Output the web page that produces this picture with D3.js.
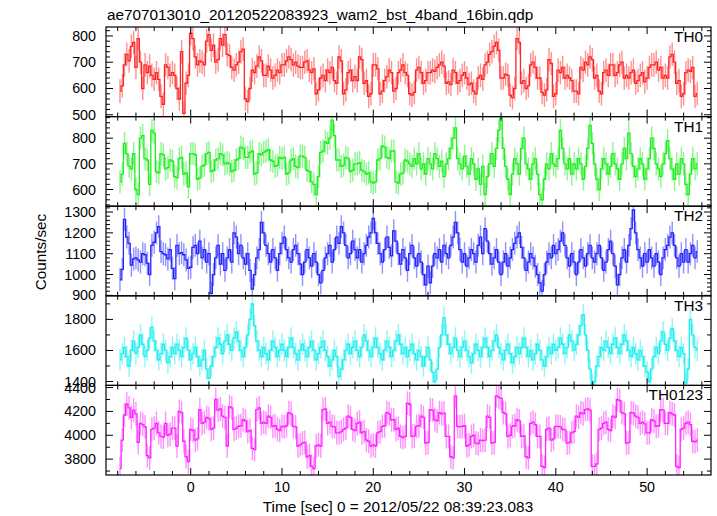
<!DOCTYPE html>
<html><head><meta charset="utf-8">
<script src="https://cdn.jsdelivr.net/npm/d3@7"></script>
<style>body{margin:0;background:#fff}svg{display:block}text{font-family:"Liberation Sans",Arial,Helvetica,sans-serif}</style>
</head><body>
<script>
// ---- data ----
const title = "ae707013010_20120522083923_wam2_bst_4band_16bin.qdp";
const xLabel = "Time [sec] 0 = 2012/05/22 08:39:23.083";
const yLabel = "Counts/sec";
const bandNames = ["TH0","TH1","TH2","TH3","TH0123"];
const binStart = -7.75, binWidth = 0.25;
const xTicks = [0,10,20,30,40,50];
const th0 = [
590,610,690,730,705,760,775,680, 790,700,600,690,660,685,650,635,
660,635,570,540,690,680,650,660, 650,600,560,740,505,620,650,810,
790,720,690,705,700,690,780,805, 745,765,700,710,790,765,805,730,
725,680,670,690,700,740,750,560, 550,600,670,660,685,720,705,650,
650,685,670,640,650,670,660,690, 690,705,720,710,690,700,685,680,
680,700,705,670,660,675,580,595, 640,650,630,670,660,680,630,620,
720,705,580,595,660,670,630,645, 630,720,710,620,630,570,580,690,
690,675,580,590,630,645,670,660, 590,600,660,670,690,660,650,580,
575,585,670,680,660,620,630,660, 660,670,665,680,690,700,685,620,
625,615,670,660,620,630,650,660, 640,615,620,590,580,640,650,635,
690,700,730,740,760,775,745,640, 640,655,650,575,565,600,790,775,
620,630,600,610,690,700,680,640, 640,585,575,595,710,695,570,580,
670,660,680,640,650,640,630,590, 590,580,680,670,700,690,720,710,
640,650,590,580,660,670,650,690, 690,650,660,690,700,640,650,640,
660,670,620,630,650,660,625,640, 680,690,690,700,670,680,640,650,
640,720,730,700,620,630,570,580, 660,670,665,680,570,580];
const th1 = [
630,660,780,740,690,680,740,600, 580,800,810,720,715,620,830,820,
670,665,740,735,680,685,715,710, 650,645,720,725,660,665,610,740,
740,735,640,645,690,695,740,745, 670,675,715,720,740,735,700,705,
700,670,675,715,720,765,760,725, 725,745,750,660,665,740,735,745,
750,755,715,710,690,695,725,720, 725,660,665,715,720,690,685,730,
730,725,675,670,630,620,580,650, 745,750,785,780,800,870,810,715,
715,690,695,725,720,670,675,700, 700,705,675,670,660,665,630,625,
630,715,720,770,765,725,720,750, 750,630,625,660,665,715,710,700,
690,720,700,740,680,700,660,720, 700,680,740,720,690,710,650,700,
720,760,800,840,720,700,680,730, 690,660,720,700,640,680,620,690,
580,650,700,740,690,760,830,880, 760,690,640,580,660,720,700,660,
760,800,700,680,640,700,720,660, 580,560,640,700,680,740,700,690,
720,830,760,700,680,720,660,700, 680,720,700,640,690,760,850,780,
700,640,600,680,720,700,660,690, 740,700,680,640,700,760,720,820,
740,690,650,680,720,700,640,680, 720,800,760,700,680,650,700,740,
790,720,680,640,700,660,720,700, 620,580,660,720,680,700];
const th2 = [
975,1025,1265,1180,1150,1045,1075,1080, 1070,1060,1100,1095,1055,1000,1140,1155,
1200,1230,1110,1100,1095,1075,1120,1030, 980,1140,1100,1105,1095,1070,1030,1035,
1130,1140,1100,1160,1080,1120,1060,1100, 910,1000,1080,1140,1050,1100,1020,1080,
1120,1060,1200,1180,1100,1140,1080,1050, 1100,1020,930,1000,1080,1120,1250,1200,
1140,1100,1060,1120,1080,1020,1100,1150, 1180,1120,1080,1060,1120,1140,1100,1050,
1000,1060,1120,1080,1040,1100,1060,1000, 960,1020,1080,1100,1140,1060,1120,1180,
1150,1230,1200,1140,1080,1100,1160,1120, 1080,1120,1060,1100,1140,1180,1200,1270,
1200,1150,1100,1060,1120,1180,1130,1090, 1210,1160,1100,1050,1120,1080,1020,1100,
1140,1080,1040,1100,1060,1000,950,1040, 960,1040,1100,1080,1120,1060,1140,1100,
1080,1140,1180,1250,1200,1120,1060,1100, 1040,1080,1120,1100,1060,1140,1180,1100,
1220,1160,1100,1050,1080,1120,1060,1000, 1060,1100,1040,1080,1120,1150,1180,1200,
1130,1080,1020,1060,1100,1080,1040,1000, 960,920,1000,1060,1100,1080,1140,1100,
1120,1160,1200,1140,1080,1040,1100,1060, 1000,1060,1120,1080,1040,1100,1140,1080,
1060,1100,1140,1080,1020,1060,1120,1160, 1100,1040,950,1000,1080,1120,1060,1140,
1220,1310,1200,1120,1080,1040,1100,1060, 1120,1080,1040,1100,1060,1000,1080,1120,
1140,1180,1200,1140,1080,1040,1100,1060, 1120,1060,1100,1140,1080,1110];
const th3 = [
1540,1580,1620,1560,1500,1600,1660,1580, 1620,1700,1640,1560,1600,1680,1750,1660,
1600,1540,1580,1640,1600,1520,1560,1620, 1580,1640,1600,1560,1620,1680,1600,1540,
1580,1620,1560,1500,1540,1600,1480,1420, 1500,1560,1620,1680,1640,1580,1660,1700,
1640,1600,1680,1720,1660,1600,1560,1620, 1700,1800,1900,1760,1660,1600,1560,1620,
1580,1540,1600,1660,1620,1560,1600,1640, 1600,1560,1620,1680,1620,1580,1540,1600,
1640,1600,1560,1620,1660,1600,1540,1580, 1620,1660,1600,1560,1500,1540,1600,1560,
1430,1480,1540,1600,1640,1580,1620,1660, 1600,1560,1620,1700,1660,1600,1560,1620,
1680,1620,1580,1540,1600,1660,1620,1560, 1600,1660,1700,1640,1580,1620,1560,1600,
1640,1580,1540,1600,1560,1500,1560,1620, 1540,1460,1400,1480,1620,1700,1810,1700,
1640,1580,1620,1680,1600,1560,1620,1660, 1600,1560,1520,1580,1640,1600,1560,1620,
1680,1620,1560,1600,1660,1700,1620,1580, 1540,1600,1640,1580,1520,1560,1620,1580,
1620,1680,1620,1560,1600,1540,1580,1640, 1600,1540,1500,1560,1620,1580,1640,1600,
1620,1680,1640,1580,1620,1700,1660,1600, 1640,1700,1760,1830,1700,1600,1480,1380,
1400,1500,1560,1620,1600,1660,1620,1580, 1640,1680,1620,1580,1640,1700,1660,1600,
1560,1620,1580,1540,1600,1560,1500,1460, 1400,1480,1560,1620,1580,1660,1720,1640,
1600,1680,1740,1660,1600,1560,1620,1580, 1390,1480,1800,1700,1620,1600];
const th0123 = [
3720,3960,4170,4260,4230,4150,4210,4180, 3940,4100,4090,4070,3830,3810,4050,4060,
4100,4020,3990,3985,4100,4000,4010,4060, 4060,3910,4200,4190,3950,3820,3780,4050,
4040,3960,3970,4215,4100,4110,4150,4140, 4050,4060,4300,4210,4220,4160,4150,3910,
4240,4230,4050,4060,4075,4080,4130,4120, 4030,4040,3890,3880,4215,4230,4100,4110,
4100,4160,4150,4075,4080,4050,4040,4075, 4070,4080,4190,4180,4075,4070,3910,3920,
3935,3940,3820,3830,3740,3720,3910,3920, 3910,4215,4220,4100,4110,4075,4070,4020,
4020,4030,4050,4060,4160,4150,4050,4040, 4100,4110,4020,4030,3960,3950,3910,3920,
3910,4020,4030,4075,4080,4190,4180,4130, 4130,4050,4060,3990,3980,3990,4270,4260,
3990,3995,4075,4080,4160,4150,3935,3940, 4215,4210,4130,4120,4190,4180,4185,3990,
3990,3820,3810,4330,4075,4070,4075,4080, 3910,3920,3990,4000,3935,3930,3960,3955,
3960,4160,4150,3935,3940,4330,4320,4310, 4190,4180,3990,4000,4075,4080,4130,4120,
3990,3995,3820,3810,4100,4110,4090,3990, 3990,3740,3730,4050,4060,3960,3970,4075,
4075,4070,4050,4045,3935,3940,4020,4030, 4160,4150,4190,4180,4215,4220,4210,3740,
3740,3760,4050,4060,4100,4110,4050,4040, 4160,4150,4300,4290,4190,4180,3935,3940,
4190,4185,4160,4150,4100,4110,4095,4020, 4020,4130,4120,4075,4080,4215,4210,4100,
4100,4190,4180,4170,3740,3730,4050,4060, 4100,4110,4090,3950,3945,3960];
const seriesValues = [th0, th1, th2, th3, th0123];
const errorHalf = [45, 45, 55, 70, 100];
const yDomains = [[493,834],[535,884],[898,1328],[1375,1952],[3667,4418]];
const yTicks = [[500,600,700,800],[600,700,800],[900,1000,1100,1200,1300],[1400,1600,1800],[3800,4000,4200,4400]];
const yMinorStep = [20, 20, 20, 100, 100];
const colors = ["#ff2424","#1eee1e","#2424ff","#1eeeee","#ff24ff"];

(function draw() {
  const W = 717, H = 516;
  const pl = 106, pr = 711, pt = 27, pb = 475;
  const ph = (pb - pt) / 5;
  const fs = 15.3;

  const svg = d3.select("body").append("svg").attr("width", W).attr("height", H);
  const x = d3.scaleLinear().domain([-9.28, 57.0]).range([pl, pr]);
  const xMinor = d3.range(-8, 57, 2).filter(v => v % 10 !== 0);

  svg.append("text").attr("x", 107).attr("y", 20).attr("font-size", fs).text(title);

  seriesValues.forEach((vals, p) => {
    const y0 = pt + p * ph, y1 = y0 + ph;
    const y = d3.scaleLinear().domain(yDomains[p]).range([y1, y0]);
    const g = svg.append("g");
    const cid = "clip" + p;
    svg.append("clipPath").attr("id", cid).append("rect")
      .attr("x", pl).attr("y", y0).attr("width", pr - pl).attr("height", ph);
    const data = vals.map((v, i) => ({t: binStart + i * binWidth, v}));
    const dg = g.append("g").attr("clip-path", `url(#${cid})`);
    dg.selectAll("line.err").data(data).enter().append("line")
      .attr("x1", d => x(d.t)).attr("x2", d => x(d.t))
      .attr("y1", d => y(d.v - errorHalf[p])).attr("y2", d => y(d.v + errorHalf[p]))
      .attr("stroke", colors[p]).attr("stroke-opacity", 0.5).attr("stroke-width", 1.4);
    const line = d3.line().x(d => x(d.t)).y(d => y(d.v)).curve(d3.curveStep);
    dg.append("path").datum(data).attr("d", line)
      .attr("fill", "none").attr("stroke", colors[p]).attr("stroke-width", 1.3);

    const ymin = d3.range(Math.ceil(yDomains[p][0] / yMinorStep[p]) * yMinorStep[p], yDomains[p][1], yMinorStep[p]);
    ymin.forEach(v => {
      const major = yTicks[p].includes(v);
      const len = major ? 7 : 4;
      g.append("line").attr("x1", pl).attr("x2", pl + len).attr("y1", y(v)).attr("y2", y(v)).attr("stroke", "#000").attr("stroke-width", 1);
      g.append("line").attr("x1", pr).attr("x2", pr - len).attr("y1", y(v)).attr("y2", y(v)).attr("stroke", "#000").attr("stroke-width", 1);
    });
    yTicks[p].forEach(v => {
      g.append("text").attr("x", 96).attr("y", y(v) + 5).attr("text-anchor", "end").attr("font-size", 14.3).text(v);
    });
    xTicks.forEach(v => {
      g.append("line").attr("x1", x(v)).attr("x2", x(v)).attr("y1", y0).attr("y2", y0 + 7).attr("stroke", "#000");
      g.append("line").attr("x1", x(v)).attr("x2", x(v)).attr("y1", y1).attr("y2", y1 - 7).attr("stroke", "#000");
    });
    xMinor.forEach(v => {
      g.append("line").attr("x1", x(v)).attr("x2", x(v)).attr("y1", y0).attr("y2", y0 + 4).attr("stroke", "#000");
      g.append("line").attr("x1", x(v)).attr("x2", x(v)).attr("y1", y1).attr("y2", y1 - 4).attr("stroke", "#000");
    });
    g.append("rect").attr("x", pl).attr("y", y0).attr("width", pr - pl).attr("height", ph)
      .attr("fill", "none").attr("stroke", "#000").attr("stroke-width", 1.2);
    g.append("text").attr("x", 703).attr("y", y0 + 15).attr("text-anchor", "end").attr("font-size", fs).text(bandNames[p]);
  });

  xTicks.forEach(v => {
    svg.append("text").attr("x", x(v)).attr("y", 492).attr("text-anchor", "middle").attr("font-size", 14.3).text(v);
  });
  svg.append("text").attr("x", 398).attr("y", 512).attr("text-anchor", "middle").attr("font-size", fs).text(xLabel);
  svg.append("text").attr("transform", "translate(46,252) rotate(-90)").attr("text-anchor", "middle").attr("font-size", fs).text(yLabel);
})();
</script>
</body></html>
